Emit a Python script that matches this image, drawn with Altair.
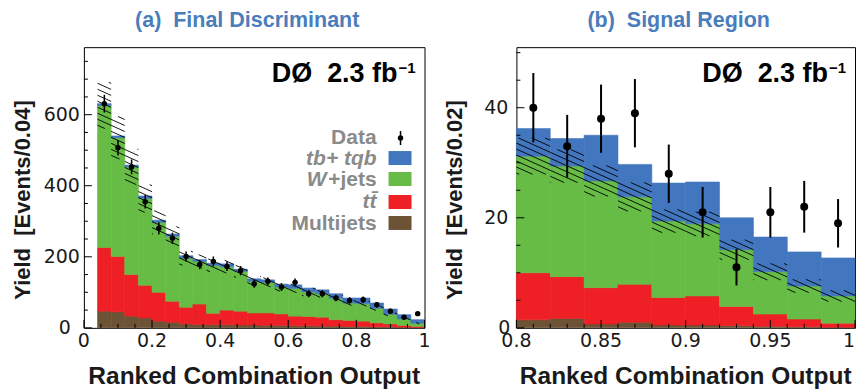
import altair as alt
import pandas as pd
import math

# ---------------- panel (a): Final Discriminant (bins of 0.04) ----------------
a_lo = [0.04, 0.08, 0.12, 0.16, 0.20, 0.24, 0.28, 0.32, 0.36, 0.40, 0.44, 0.48,
        0.52, 0.56, 0.60, 0.64, 0.68, 0.72, 0.76, 0.80, 0.84, 0.88, 0.92, 0.96]
a_hi = [0.08, 0.12, 0.16, 0.20, 0.24, 0.28, 0.32, 0.36, 0.40, 0.44, 0.48, 0.52,
        0.56, 0.60, 0.64, 0.68, 0.72, 0.76, 0.80, 0.84, 0.88, 0.92, 0.96, 1.00]
a_multijets = [47, 45, 33, 28, 19, 16, 11, 9, 9, 9, 8, 8, 7, 7, 6, 6, 5, 5, 4, 4, 3, 3, 2, 1]
a_ttbar = [179, 156, 117, 92, 81, 59, 47, 58, 32, 41, 39, 34, 35, 32, 27, 26, 25, 18, 17, 15, 11, 8, 5, 3]
a_wjets = [400, 334, 303, 244, 197, 183, 138, 120, 135, 122, 112, 89, 86, 76, 78, 69, 66, 60, 49, 49, 41, 27, 18, 9]
a_signal = [5, 5, 5, 7, 6, 6, 7, 5, 6, 8, 6, 7, 7, 8, 10, 11, 11, 13, 14, 16, 15, 15, 12, 10]
a_data = [631, 507, 453, 355, 280, 252, 201, 178, 187, 173, 161, 124, 131, 115, 128, 96, 96, 84, 77, 79, 65, 47, 30, 40]
a_err = [25, 22, 21, 19, 17, 16, 14, 13, 14, 13, 13, 11, 11, 11, 11, 10, 10, 9, 9, 9, 8, 7, 5, 6]
a_band = [65, 60, 50, 39, 33, 27, 20, 19, 18, 18, 17, 14, 13, 12, 12, 11, 10, 9, 7, 7, 6, 4, 3, 2]
a_xticks = [0, 0.2, 0.4, 0.6, 0.8, 1.0]
a_xtick_text = ["0", "0.2", "0.4", "0.6", "0.8", "1"]
a_xminor = [0.05, 0.1, 0.15, 0.25, 0.3, 0.35, 0.45, 0.5, 0.55, 0.65, 0.7, 0.75, 0.85, 0.9, 0.95]
a_yticks = [200, 400, 600]
a_ytick_text = ["200", "400", "600"]
a_yminor = [50, 100, 150, 250, 300, 350, 450, 500, 550, 650, 700, 750]

# ---------------- panel (b): Signal Region (bins of 0.02) ----------------
b_lo = [0.80, 0.82, 0.84, 0.86, 0.88, 0.90, 0.92, 0.94, 0.96, 0.98]
b_hi = [0.82, 0.84, 0.86, 0.88, 0.90, 0.92, 0.94, 0.96, 0.98, 1.00]
b_multijets = [1.45, 1.7, 0.7, 1.0, 0.5, 0.5, 0.4, 0.3, 0.2, 0.1]
b_ttbar = [8.55, 7.6, 6.6, 6.9, 5.0, 5.3, 3.5, 2.2, 1.4, 0.75]
b_wjets = [21.2, 20.1, 19.4, 15.9, 13.9, 13.1, 10.3, 7.7, 6.0, 4.95]
b_signal = [5.0, 5.0, 8.3, 5.9, 6.9, 7.6, 5.8, 6.3, 6.2, 6.9]
b_data = [40, 33, 38, 39, 28, 21, 11, 21, 22, 19]
b_err = [6.3, 5.7, 6.2, 6.2, 5.3, 4.6, 3.3, 4.6, 4.7, 4.4]
b_band = [3.3, 3.0, 2.8, 2.6, 2.1, 2.2, 1.8, 1.5, 1.2, 1.0]
b_xticks = [0.8, 0.85, 0.9, 0.95, 1.0]
b_xtick_text = ["0.8", "0.85", "0.9", "0.95", "1"]
b_xminor = [0.81, 0.82, 0.83, 0.84, 0.86, 0.87, 0.88, 0.89, 0.91, 0.92, 0.93, 0.94, 0.96, 0.97, 0.98, 0.99]
b_yticks = [20, 40]
b_ytick_text = ["20", "40"]
b_yminor = [5, 10, 15, 25, 30, 35, 45, 50]

comp_names = ["Multijets", "ttbar", "W+jets", "tb+tqb"]
comp_colors = ["#6c5335", "#ee1f25", "#67bc45", "#4277bf"]

H = 281
TICK_FONT = "DejaVu Sans"
BOLD_FONT = "Liberation Sans"
TXT = "#1a1a1a"


def stack_df(lo, hi, comps):
    rows = []
    for i in range(len(lo)):
        base = 0.0
        for name, vals in zip(comp_names, comps):
            rows.append(dict(lo=lo[i], hi=hi[i], y0=base, y1=base + vals[i], comp=name))
            base += vals[i]
    return pd.DataFrame(rows)


def hatch_df(lo, hi, comps_bkg, band, xmin, sx, sy, slope=0.45, spacing=6.0):
    rows = []
    for i in range(len(lo)):
        center = sum(c[i] for c in comps_bkg)
        xa, xb = (lo[i] - xmin) * sx, (hi[i] - xmin) * sx
        ya = max(0.0, H - (center + band[i]) * sy)
        yb = H - (center - band[i]) * sy
        k0 = math.floor((ya - slope * xb) / spacing)
        k1 = math.ceil((yb - slope * xa) / spacing)
        for k in range(k0, k1 + 1):
            c = k * spacing
            xs = max(xa, (ya - c) / slope)
            xe = min(xb, (yb - c) / slope)
            if xe - xs > 0.6:
                ys, ye = slope * xs + c, slope * xe + c
                rows.append(dict(x=xmin + xs / sx, x2=xmin + xe / sx,
                                 y=(H - ys) / sy, y2=(H - ye) / sy))
    return pd.DataFrame(rows)


def txt(s, x, y, size, color="black", style="normal", align="left", weight="bold",
        font=BOLD_FONT, angle=0, baseline="alphabetic"):
    return alt.Chart(pd.DataFrame({"t": [s]})).mark_text(
        align=align, baseline=baseline, font=font, fontSize=size, angle=angle,
        fontWeight=weight, fontStyle=style, color=color
    ).encode(text="t:N", x=alt.value(x), y=alt.value(y))


def panel(lo, hi, comps, data, err, band, xdom, ydom, width, xticks_v, xticks_t, xminor,
          yticks_v, yticks_t, yminor, ytitle, title, ylabx, zero_x, last_align,
          point_size, err_w, legend, anchor):
    sx = width / (xdom[1] - xdom[0])
    sy = H / (ydom[1] - ydom[0])
    xscale = alt.Scale(domain=xdom, nice=False, zero=False)
    yscale = alt.Scale(domain=ydom, nice=False, zero=False)

    cscale = alt.Scale(domain=comp_names, range=comp_colors)
    bars = alt.Chart(stack_df(lo, hi, comps)).mark_rect(strokeWidth=0.6).encode(
        x=alt.X("lo:Q", scale=xscale, axis=None),
        x2="hi:Q",
        y=alt.Y("y0:Q", scale=yscale, axis=None),
        y2="y1:Q",
        color=alt.Color("comp:N", scale=cscale, legend=None),
        stroke=alt.Stroke("comp:N", scale=cscale, legend=None),
    )
    hatch = alt.Chart(hatch_df(lo, hi, comps[:3], band, xdom[0], sx, sy)).mark_rule(
        color="black", strokeWidth=0.9
    ).encode(x=alt.X("x:Q", axis=None), x2="x2:Q", y=alt.Y("y:Q", axis=None), y2="y2:Q")

    ddf = pd.DataFrame({
        "c": [(a + b) / 2 for a, b in zip(lo, hi)],
        "v": data,
        "lo_e": [v - e for v, e in zip(data, err)],
        "hi_e": [v + e for v, e in zip(data, err)],
    })
    ebar = alt.Chart(ddf).mark_rule(color="black", strokeWidth=err_w).encode(
        x=alt.X("c:Q", axis=None), y=alt.Y("lo_e:Q", axis=None), y2="hi_e:Q")
    pts = alt.Chart(ddf).mark_circle(color="black", opacity=1, size=point_size).encode(
        x=alt.X("c:Q", axis=None), y=alt.Y("v:Q", axis=None))

    def yticks(vals, ln):
        return alt.Chart(pd.DataFrame({"v": vals})).mark_rule(color="black", strokeWidth=1).encode(
            y=alt.Y("v:Q", axis=None), x=alt.value(0), x2=alt.value(ln))

    def xticks(vals, ln):
        return alt.Chart(pd.DataFrame({"v": vals})).mark_rule(color="black", strokeWidth=1).encode(
            x=alt.X("v:Q", axis=None), y=alt.value(H), y2=alt.value(H - ln))

    # tick labels (drawn through the scales)
    xlab = alt.Chart(pd.DataFrame({"v": xticks_v[:-1], "t": xticks_t[:-1]})).mark_text(
        font=TICK_FONT, fontSize=19, color=TXT, align="center", baseline="top"
    ).encode(x=alt.X("v:Q", axis=None), y=alt.value(H + 4), text="t:N")
    xlab_last = alt.Chart(pd.DataFrame({"v": xticks_v[-1:], "t": xticks_t[-1:]})).mark_text(
        font=TICK_FONT, fontSize=19, color=TXT, align=last_align, baseline="top"
    ).encode(x=alt.X("v:Q", axis=None), y=alt.value(H + 4), text="t:N")
    ylab = alt.Chart(pd.DataFrame({"v": yticks_v, "t": yticks_t})).mark_text(
        font=TICK_FONT, fontSize=19, color=TXT, align="right", baseline="middle"
    ).encode(y=alt.Y("v:Q", axis=None), x=alt.value(ylabx), text="t:N")
    ylab0 = alt.Chart(pd.DataFrame({"v": [0], "t": ["0"]})).mark_text(
        font=TICK_FONT, fontSize=19, color=TXT, align="right", baseline="middle"
    ).encode(y=alt.Y("v:Q", axis=None), x=alt.value(zero_x), text="t:N")

    layers = [bars, hatch, ebar, pts,
              yticks([0] + yticks_v, 8), yticks(yminor, 4), xticks(xticks_v, 8), xticks(xminor, 4),
              xlab, xlab_last, ylab, ylab0]

    # axis titles
    layers.append(txt("Ranked Combination Output", width / 2, H + 56, 24.5, color=TXT, align="center"))
    layers.append(txt(ytitle, -54, 153, 22, color=TXT, align="center", angle=270))
    # panel title
    layers.append(txt(title, width / 2 - 7, -20, 21.5, color="#4a7dbb", align="center"))
    # experiment label
    layers.append(txt("D\u00d8\u00a0 2.3 fb", width - 27, 35, 27, align="right"))
    layers.append(txt("\u22121", width - 26, 26, 15, align="left"))

    if legend:
        gray = "#8a8a8a"
        rx = 293
        fs = 21
        layers.append(txt("Data", rx, 97, fs, color=gray, align="right"))
        layers.append(txt("tb+ tqb", rx, 118, fs, color=gray, style="italic", align="right"))
        layers.append(txt("+jets", rx, 139, fs, color=gray, align="right"))
        layers.append(txt("W", rx - 50, 139, fs, color=gray, style="italic", align="right"))
        layers.append(txt("t\u0074\u0304", rx, 161, fs, color=gray, style="italic", align="right"))
        layers.append(txt("Multijets", rx, 183, fs, color=gray, align="right"))
        sw_y = [(104, 118), (125, 139), (148, 162), (169, 183)]
        for (y1, y2), col in zip(sw_y, [comp_colors[3], comp_colors[2], comp_colors[1], comp_colors[0]]):
            layers.append(alt.Chart(pd.DataFrame({"a": [0]})).mark_rect(color=col).encode(
                x=alt.value(305), x2=alt.value(328), y=alt.value(y1), y2=alt.value(y2)))
        layers.append(alt.Chart(pd.DataFrame({"a": [0]})).mark_rule(color="black", strokeWidth=1.5).encode(
            x=alt.value(317), y=alt.value(84), y2=alt.value(98)))
        layers.append(alt.Chart(pd.DataFrame({"a": [0]})).mark_circle(color="black", opacity=1, size=30).encode(
            x=alt.value(317), y=alt.value(91)))

    if anchor:
        layers.append(alt.Chart(pd.DataFrame({"a": [0]})).mark_rect(color="white").encode(
            x=alt.value(-83), x2=alt.value(-82), y=alt.value(-46), y2=alt.value(-45)))

    return alt.layer(*layers).properties(width=width, height=H)


left = panel(a_lo, a_hi, [a_multijets, a_ttbar, a_wjets, a_signal], a_data, a_err, a_band,
             [0, 1], [0, 790], 341, a_xticks, a_xtick_text, a_xminor,
             a_yticks, a_ytick_text, a_yminor,
             "Yield\u00a0 [Events/0.04]", "(a)\u00a0 Final Discriminant",
             -4, -13, "center", 30, 1.5, True, True)
right = panel(b_lo, b_hi, [b_multijets, b_ttbar, b_wjets, b_signal], b_data, b_err, b_band,
              [0.8, 1.0], [0, 51], 339, b_xticks, b_xtick_text, b_xminor,
              b_yticks, b_ytick_text, b_yminor,
              "Yield\u00a0 [Events/0.02]", "(b)\u00a0 Signal Region",
              -8, -6, "right", 64, 2, False, False)

chart = alt.hconcat(left, right, spacing=92, bounds="flush").properties(
    padding=0, background="white"
).configure_view(stroke="black", strokeWidth=1)

chart.save("out.html", embed_options={"renderer": "svg", "actions": False})
